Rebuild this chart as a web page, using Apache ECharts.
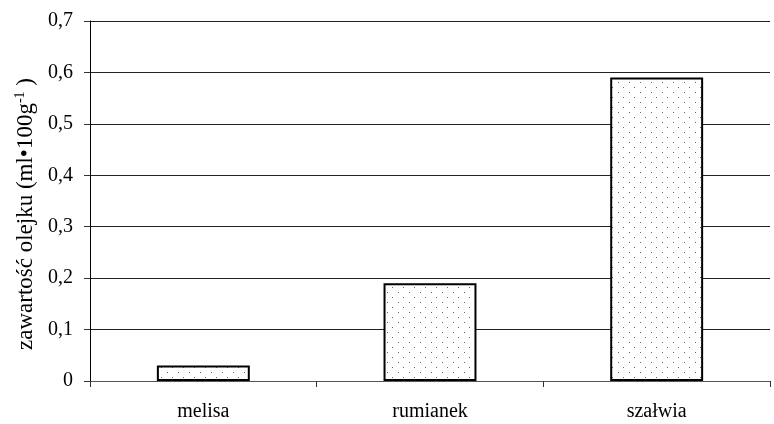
<!DOCTYPE html>
<html><head><meta charset="utf-8">
<script src="https://cdn.jsdelivr.net/npm/echarts@6/dist/echarts.min.js"></script>
<style>html,body{margin:0;padding:0;background:#fff}#c{width:774px;height:424px}</style>
</head><body><div id="c"></div>
<script>
const categories = ['melisa', 'rumianek', 'szałwia'];
const values = [0.03, 0.19, 0.59];
const yTicks = [0, 0.1, 0.2, 0.3, 0.4, 0.5, 0.6, 0.7];

const pc = document.createElement('canvas');
pc.width = 11; pc.height = 10;
const ctx = pc.getContext('2d');
ctx.fillStyle = '#fff'; ctx.fillRect(0,0,11,10);
ctx.fillStyle = '#666';
ctx.fillRect(2,2,1,1);
ctx.fillRect(7,7,1,1);

const chart = echarts.init(document.getElementById('c'));
const font = 'Liberation Serif';
chart.setOption({
  animation: false,
  grid: {left: 90, right: 4, top: 21, bottom: 43},
  xAxis: {
    type: 'category', data: categories,
    axisLine: {lineStyle: {color: '#555', width: 1}},
    axisTick: {show: true, inside: false, length: 6, lineStyle: {color: '#333'}},
    axisLabel: {fontFamily: font, fontSize: 20, color: '#000', margin: 21}
  },
  yAxis: {
    type: 'value', min: 0, max: 0.7, interval: 0.1,
    axisLine: {show: true, lineStyle: {color: '#000'}},
    axisTick: {show: true, length: 6, lineStyle: {color: '#333'}},
    splitLine: {lineStyle: {color: '#222', width: 1}},
    axisLabel: {fontFamily: font, fontSize: 20, color: '#000', margin: 17,
      formatter: v => { const t = yTicks.find(x => Math.abs(x - v) < 1e-9); return t === 0 ? '0' : String(+v.toFixed(1)).replace('.', ','); }},
    name: '{a|zawartość olejku (ml•100g}{s|-1}{e| )}',
    nameLocation: 'middle', nameRotate: 90, nameGap: 50,
    nameTextStyle: {
      rich: {
        a: {fontFamily: font, fontSize: 23, color: '#000'},
        e: {fontFamily: font, fontSize: 23, color: '#000', padding: [0, 26, 0, 0]},
        s: {fontFamily: font, fontSize: 14, color: '#000', verticalAlign: 'top', padding: [0,0,10,0]}
      }
    }
  },
  series: [{
    type: 'bar', data: values, barWidth: '41%',
    itemStyle: {color: {image: pc, repeat: 'repeat'}, borderColor: '#000', borderWidth: 2}
  }]
});
</script></body></html>
